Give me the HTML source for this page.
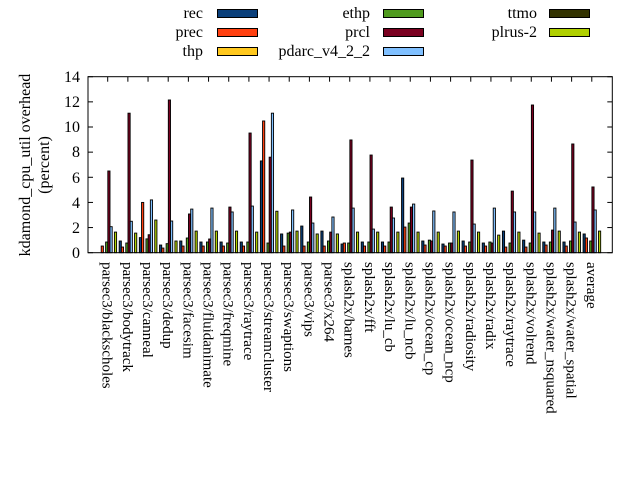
<!DOCTYPE html>
<html><head><meta charset="utf-8"><style>
html,body{margin:0;padding:0;background:#fff;}
svg{display:block;font-family:"Liberation Serif",serif;}
</style></head><body>
<svg id="s" width="640" height="480" xmlns="http://www.w3.org/2000/svg">
<rect width="640" height="480" fill="#fff"/>
<g id="bars"></g>
<g id="ticks" stroke="#000" stroke-width="1"></g>
<rect x="88" y="76.7" width="524.3" height="176" fill="none" stroke="#000" stroke-width="1"/>
<g font-size="16" text-anchor="end">
<text x="80" y="258">0</text>
<text x="80" y="233">2</text>
<text x="80" y="208">4</text>
<text x="80" y="183">6</text>
<text x="80" y="157">8</text>
<text x="80" y="132">10</text>
<text x="80" y="107">12</text>
<text x="80" y="82">14</text>
</g>
<g font-size="16" text-anchor="middle">
<text transform="translate(30,165) rotate(-90)">kdamond_cpu_util overhead</text>
<text transform="translate(49,165) rotate(-90)">(percent)</text>
</g>
<g font-size="15" id="xl">
<text transform="translate(102.7,262) rotate(90)">parsec3/blackscholes</text>
<text transform="translate(122.9,262) rotate(90)">parsec3/bodytrack</text>
<text transform="translate(143,262) rotate(90)">parsec3/canneal</text>
<text transform="translate(163.2,262) rotate(90)">parsec3/dedup</text>
<text transform="translate(183.4,262) rotate(90)">parsec3/facesim</text>
<text transform="translate(203.6,262) rotate(90)">parsec3/fluidanimate</text>
<text transform="translate(223.7,262) rotate(90)">parsec3/freqmine</text>
<text transform="translate(243.9,262) rotate(90)">parsec3/raytrace</text>
<text transform="translate(264.1,262) rotate(90)">parsec3/streamcluster</text>
<text transform="translate(284.2,262) rotate(90)">parsec3/swaptions</text>
<text transform="translate(304.4,262) rotate(90)">parsec3/vips</text>
<text transform="translate(324.6,262) rotate(90)">parsec3/x264</text>
<text transform="translate(344.7,262) rotate(90)">splash2x/barnes</text>
<text transform="translate(364.9,262) rotate(90)">splash2x/fft</text>
<text transform="translate(385.1,262) rotate(90)">splash2x/lu_cb</text>
<text transform="translate(405.3,262) rotate(90)">splash2x/lu_ncb</text>
<text transform="translate(425.4,262) rotate(90)">splash2x/ocean_cp</text>
<text transform="translate(445.6,262) rotate(90)">splash2x/ocean_ncp</text>
<text transform="translate(465.8,262) rotate(90)">splash2x/radiosity</text>
<text transform="translate(485.9,262) rotate(90)">splash2x/radix</text>
<text transform="translate(506.1,262) rotate(90)">splash2x/raytrace</text>
<text transform="translate(526.3,262) rotate(90)">splash2x/volrend</text>
<text transform="translate(546.4,262) rotate(90)">splash2x/water_nsquared</text>
<text transform="translate(566.6,262) rotate(90)">splash2x/water_spatial</text>
<text transform="translate(586.8,262) rotate(90)">average</text>
</g>
<g font-size="16" text-anchor="end">
<text x="203" y="18">rec</text>
<text x="203" y="37">prec</text>
<text x="203" y="56">thp</text>
<text x="370" y="18">ethp</text>
<text x="370" y="37">prcl</text>
<text x="370" y="56">pdarc_v4_2_2</text>
<text x="537" y="18">ttmo</text>
<text x="537" y="37">plrus-2</text>
</g>
<g stroke="#000" stroke-width="1">
<rect x="217.5" y="9.5" width="40" height="8" fill="#0a3f7a"/>
<rect x="217.5" y="28.5" width="40" height="8" fill="#ff4010"/>
<rect x="217.5" y="47.5" width="40" height="8" fill="#ffc81e"/>
<rect x="383.5" y="9.5" width="40" height="8" fill="#4f9a1e"/>
<rect x="383.5" y="28.5" width="40" height="8" fill="#7a0020"/>
<rect x="383.5" y="47.5" width="40" height="8" fill="#80c0ff"/>
<rect x="549.5" y="9.5" width="40" height="8" fill="#333300"/>
<rect x="549.5" y="28.5" width="40" height="8" fill="#b0d000"/>
</g>
<script>
(function(){
var cols=["#0a3f7a","#ff4010","#ffc81e","#4f9a1e","#7a0020","#80c0ff","#333300","#b0d000"];
// rec,prec,ethp,prcl,pdarc,plrus
var d=[[0,0.53,0.85,6.5,2.07,1.64],[0.93,0.45,0.77,11.1,2.5,1.56],[1.2,4.0,1.1,1.43,4.2,2.6],[0.61,0.37,0.72,12.15,2.52,0.93],
[0.93,0.53,1.17,3.08,3.47,1.72],[0.85,0.53,0.85,1.09,3.55,1.72],[0.85,0.53,0.77,3.63,3.24,1.72],[0.85,0.53,0.85,9.52,3.71,1.64],
[7.3,10.48,0.77,7.6,11.1,3.3],[1.49,0.53,1.56,1.64,3.4,1.72],[2.12,0.53,0.85,4.43,2.36,1.49],[1.72,0.53,0.93,1.64,2.84,1.49],
[0.69,0.77,0.77,8.97,3.55,1.64],[0.85,0.53,0.85,7.77,1.88,1.64],[0.85,0.53,0.85,3.63,2.76,1.64],[5.94,2.04,2.36,3.63,3.87,1.64],
[0.93,0.61,1.0,0.93,3.32,1.64],[0.69,0.53,0.77,0.77,3.24,1.72],[0.93,0.53,0.85,7.37,2.28,1.64],[0.77,0.53,0.85,0.77,3.55,1.4],
[1.72,0.45,0.77,4.9,3.24,1.64],[1.0,0.45,0.77,11.75,3.24,1.56],[0.85,0.61,0.85,1.8,3.55,1.72],[0.85,0.53,0.93,8.65,2.44,1.64],[1.49,1.17,0.93,5.23,3.4,1.72]];
var idx=[0,1,3,4,5,7];
var ns="http://www.w3.org/2000/svg",g=document.getElementById("bars"),t=document.getElementById("ticks");
function el(n,a,p){var e=document.createElementNS(ns,n);for(var k in a)e.setAttribute(k,a[k]);p.appendChild(e);}
for(var i=0;i<25;i++){var c=107.7+i*20.17;
 for(var j=0;j<6;j++){var v=d[i][j];if(v<=0)continue;var h=v*12.57;var x=c-8.7+idx[j]*2.2;
  el("rect",{x:x,y:252.7-h,width:2.2,height:h,fill:cols[idx[j]],stroke:"#000","stroke-width":0.9},g);}
 el("line",{x1:c,y1:76.7,x2:c,y2:81.7},t);}
for(var v=0;v<=14;v+=2){var y=252.7-v*12.57;el("line",{x1:88,y1:y,x2:93,y2:y},t);el("line",{x1:607.3,y1:y,x2:612.3,y2:y},t);}
})();
</script>
</svg>
</body></html>
